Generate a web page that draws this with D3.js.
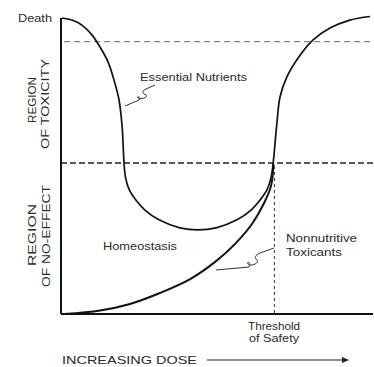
<!DOCTYPE html>
<html>
<head>
<meta charset="utf-8">
<script src="https://cdn.jsdelivr.net/npm/d3@7"></script>
<style>
  body { margin: 0; background: #fff; }
  text { font-family: "Liberation Sans", Arial, sans-serif; fill: #2a2a2a; }
</style>
</head>
<body>
<div id="chart"></div>
<script>
// dose (0-100) vs response (0 = no effect, 100 = death)
const nutrientDose = [0.3, 3.5, 6.7, 9.9, 12.5, 15.1, 17, 18.6, 19.6, 20.2, 20.7, 21.9, 24, 26.9, 31.4, 38.1, 43.9, 49.7, 56.4, 60.9, 63.8, 66, 67.3, 68, 69.2, 70.2, 72.4, 76, 80.8, 86.2, 92.6, 99];
const nutrientResp = [100, 99.3, 97.6, 94.3, 90.2, 85.1, 79, 72.3, 63.2, 51, 46, 41.9, 38.5, 35.1, 31.8, 29.1, 28.4, 29.1, 31.8, 35.1, 38.5, 41.9, 46, 51, 64.5, 73.3, 80.1, 86.5, 92.6, 96.6, 99.3, 100.5];
const toxicDose = [1, 12.5, 22.1, 31.7, 41.4, 49.4, 55.8, 61.2, 65.1, 67.3, 68.1];
const toxicResp = [0, 1.2, 3.4, 7.1, 11.8, 17.6, 23.7, 30.4, 37.5, 43.2, 50.7];
const guideLevels = [92, 51];   // dashed horizontal lines
const thresholdDose = 68.4;

const W = 374, H = 367;
const margin = { top: 18, right: 1, bottom: 53, left: 61 };

const svg = d3.select("#chart").append("svg")
  .attr("width", W).attr("height", H);

const x = d3.scaleLinear().domain([0, 100]).range([margin.left, W - margin.right]);
const y = d3.scaleLinear().domain([0, 100]).range([H - margin.bottom, margin.top]);

// dashed guides
svg.selectAll(".guide")
  .data(guideLevels)
  .join("line")
  .attr("x1", (d, i) => x(i === 0 ? 1 : 0)).attr("x2", x(100))
  .attr("y1", d => y(d)).attr("y2", d => y(d))
  .attr("stroke", (d, i) => i === 0 ? "#666" : "#222")
  .attr("stroke-width", (d, i) => i === 0 ? 1 : 1.5)
  .attr("stroke-dasharray", (d, i) => i === 0 ? "6,4" : "6,3");

// threshold of safety
svg.append("line")
  .attr("x1", x(thresholdDose)).attr("x2", x(thresholdDose))
  .attr("y1", y(50)).attr("y2", y(0))
  .attr("stroke", "#333").attr("stroke-width", 1)
  .attr("stroke-dasharray", "3,3");

// axes
svg.append("line")
  .attr("x1", x(0)).attr("x2", x(0))
  .attr("y1", y(100)).attr("y2", y(0))
  .attr("stroke", "#111").attr("stroke-width", 2);
svg.append("line")
  .attr("x1", x(0)).attr("x2", x(100))
  .attr("y1", y(0)).attr("y2", y(0))
  .attr("stroke", "#111").attr("stroke-width", 2);

const line = d3.line()
  .x(d => x(d[0])).y(d => y(d[1]))
  .curve(d3.curveCatmullRom.alpha(0.5));

svg.append("path")
  .datum(d3.zip(nutrientDose, nutrientResp))
  .attr("d", line)
  .attr("fill", "none").attr("stroke", "#111").attr("stroke-width", 1.7);

svg.append("path")
  .datum(d3.zip(toxicDose, toxicResp))
  .attr("d", line)
  .attr("fill", "none").attr("stroke", "#111").attr("stroke-width", 2);

// leader squiggles
svg.append("path")
  .attr("d", "M155,85 L146,89 C141,91 143,94 146,95 C149,97 141,100 138,98 C136,96 141,96 139,100 L125,106")
  .attr("fill", "none").attr("stroke", "#333").attr("stroke-width", 1);
svg.append("path")
  .attr("d", "M274,248 L260,253 C255,255 254,258 257,260 C260,263 251,267 248,264 C246,261 252,262 249,267 L216,270")
  .attr("fill", "none").attr("stroke", "#333").attr("stroke-width", 1);

// labels
const labels = [
  { t: "Death", x: 18, y: 22, len: 34 },
  { t: "Essential Nutrients", x: 140, y: 81, len: 107 },
  { t: "Homeostasis", x: 103, y: 250, len: 74 },
  { t: "Nonnutritive", x: 286, y: 242, len: 71 },
  { t: "Toxicants", x: 286, y: 256, len: 56 },
  { t: "Threshold", x: 248, y: 330, len: 52 },
  { t: "of Safety", x: 249, y: 342, len: 50 }
];
labels.forEach(l => {
  svg.append("text").attr("x", l.x).attr("y", l.y)
    .attr("textLength", l.len).attr("lengthAdjust", "spacingAndGlyphs")
    .style("font-size", "10.5px").text(l.t);
});

const regions = [
  { t: "REGION", bx: 36, cy: 100, len: 46 },
  { t: "OF TOXICITY", bx: 49, cy: 104, len: 90 },
  { t: "REGION", bx: 36, cy: 235, len: 62 },
  { t: "OF NO-EFFECT", bx: 50, cy: 236, len: 102 }
];
regions.forEach(r => {
  svg.append("text")
    .attr("transform", `translate(${r.bx},${r.cy})rotate(-90)`)
    .attr("x", -r.len / 2)
    .attr("textLength", r.len).attr("lengthAdjust", "spacingAndGlyphs")
    .style("font-size", "11.5px")
    .text(r.t);
});

svg.append("text").attr("x", 62).attr("y", 364)
  .attr("textLength", 135).attr("lengthAdjust", "spacingAndGlyphs")
  .style("font-size", "11.5px").text("INCREASING DOSE");
svg.append("line")
  .attr("x1", 207).attr("x2", 343).attr("y1", 360).attr("y2", 360)
  .attr("stroke", "#222").attr("stroke-width", 1.2);
svg.append("path")
  .attr("d", "M342,357 L349,360 L342,363 Z").attr("fill", "#222");
</script>
</body>
</html>
